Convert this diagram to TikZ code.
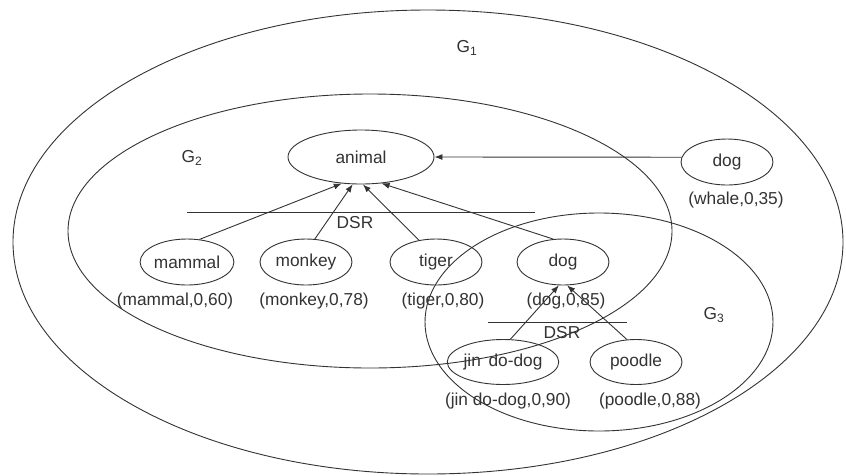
\documentclass[tikz,border=0pt]{standalone}
\usepackage{fontspec}
\setmainfont{Liberation Sans}
\usetikzlibrary{shapes.geometric,arrows.meta}
\begin{document}
\begin{tikzpicture}[x=1pt,y=-1pt,
  every node/.style={font=\fontsize{17.3}{20}\selectfont, text=black!80},
  line/.style={draw=black!80, line width=0.9pt},
  oval/.style={ellipse, line, inner sep=0pt, minimum width=92pt, minimum height=46pt},
  region/.style={ellipse, line, inner sep=0pt},
  arr/.style={line, -{Latex[length=8pt,width=6pt]}},
  lab/.style={inner sep=0pt}]
\useasboundingbox (0,0) rectangle (846,475);
\fill[white] (0,0) rectangle (846,475);
% regions
\node[region, minimum width=830pt, minimum height=464pt] (g1) at (428,242) {};
\node[region, minimum width=604pt, minimum height=274pt] (g2) at (370,231) {};
\node[region, minimum width=348pt, minimum height=218pt] (g3) at (599,322) {};
\node[lab] (g1l) at (467,48) {G\textsubscript{1}};
\node[lab] (g2l) at (192,158) {G\textsubscript{2}};
\node[lab] (g3l) at (714,315) {G\textsubscript{3}};
% concept nodes
\node[oval, minimum width=146pt, minimum height=54pt] (animal) at (361,157) {animal};
\node[oval] (mammal) at (187,262) {mammal};
\node[oval] (monkey) at (306,262) {monkey};
\node[oval] (tiger) at (436,262) {tiger};
\node[oval] (dog) at (563,262) {dog};
\node[oval, minimum width=101pt, minimum height=45pt] (jin) at (503,362) {jin\,\ do-dog};
\node[oval, minimum height=45pt] (poodle) at (636,362) {poodle};
\node[oval] (wdog) at (727,162) {dog};
% value labels
\node[lab] (lmammal) at (175,301) {(mammal,0,60)};
\node[lab] (lmonkey) at (314,301) {(monkey,0,78)};
\node[lab] (ltiger) at (443,301) {(tiger,0,80)};
\node[lab] (ldog) at (566,301) {(dog,0,85)};
\node[lab] (ljin) at (508,401) {(jin do-dog,0,90)};
\node[lab] (lpoodle) at (650,401) {(poodle,0,88)};
\node[lab] (lwdog) at (736,200) {(whale,0,35)};
% DSR separators
\coordinate (d1a) at (187,212);
\coordinate (d1b) at (535,212);
\draw[line] (d1a) -- (d1b);
\node[lab] (dsr1) at (355,223) {DSR};
\coordinate (d2a) at (488,322);
\coordinate (d2b) at (627,322);
\draw[line] (d2a) -- (d2b);
\node[lab] (dsr2) at (562,333) {DSR};
% arrows
\draw[arr] (mammal.61) -- (animal.234);
\draw[arr] (monkey.69) -- (animal.253);
\draw[arr] (tiger.128) -- (animal.274);
\draw[arr] (dog.113) -- (animal.308);
\draw[arr] (jin.72) -- (dog.260);
\draw[arr] (poodle.112) -- (dog.280);
\draw[arr] (wdog.174) -- (animal.east);
\end{tikzpicture}
\end{document}
